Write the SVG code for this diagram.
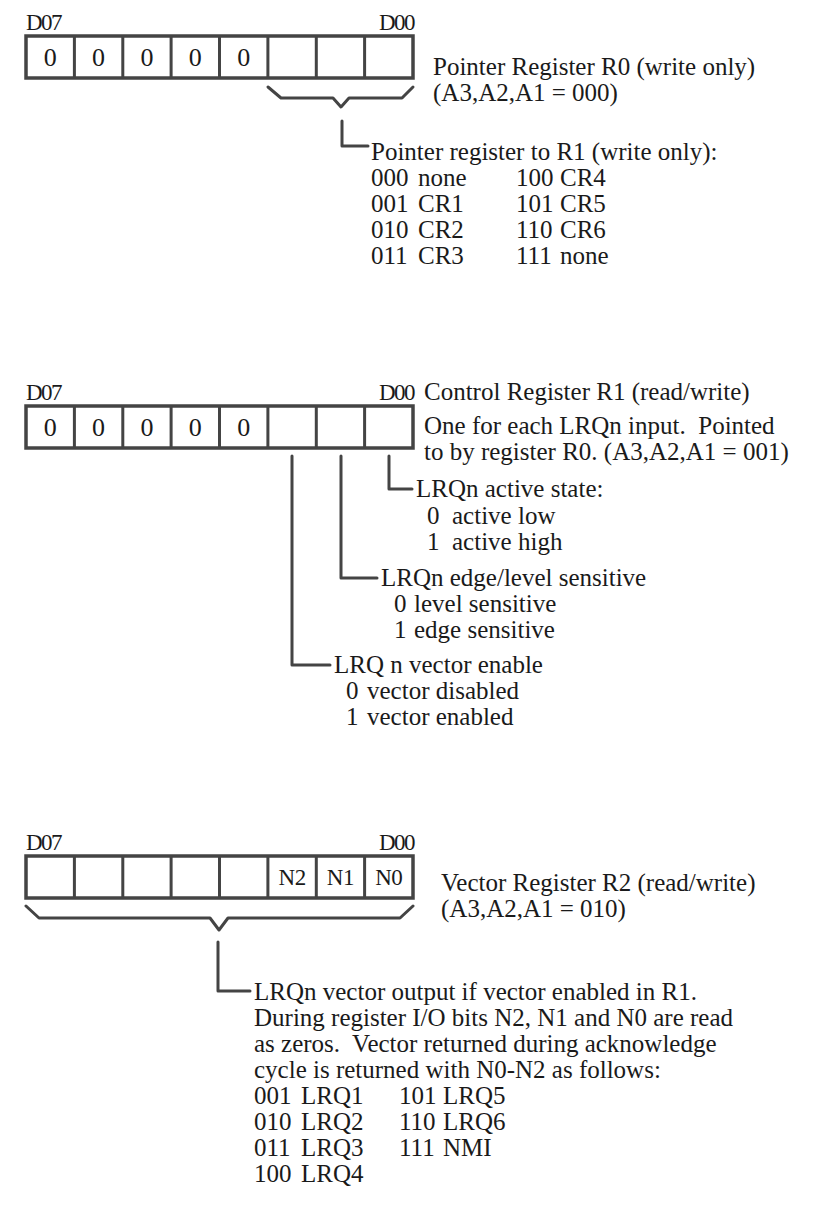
<svg xmlns="http://www.w3.org/2000/svg" width="835" height="1232" viewBox="0 0 835 1232">
<style>
text{font-family:"Liberation Serif","Times New Roman",serif;fill:#1a1a1a;font-size:25px}
.lbl{font-size:23px;letter-spacing:-1.5px}
.bit{font-size:26px;text-anchor:middle}
.nb{font-size:23px;text-anchor:middle;letter-spacing:-0.5px}
.box{fill:#fff;stroke:#444;stroke-width:3.5}
.div{stroke:#444;stroke-width:3}
.ln{fill:none;stroke:#444;stroke-width:3;stroke-linejoin:round;stroke-linecap:round}
</style>
<rect width="835" height="1232" fill="#fff"/>

<g id="reg-r0">
<text class="lbl" x="26" y="30">D07</text>
<text class="lbl" x="414" y="30" text-anchor="end">D00</text>
<rect class="box" x="26" y="36" width="387" height="42"/>
<path class="div" d="M74.4,36V78M122.8,36V78M171.1,36V78M219.5,36V78M267.9,36V78M316.3,36V78M364.6,36V78"/>
<text class="bit" x="50.2" y="66">0</text><text class="bit" x="98.6" y="66">0</text><text class="bit" x="146.9" y="66">0</text><text class="bit" x="195.3" y="66">0</text><text class="bit" x="243.7" y="66">0</text>
<text x="433" y="75">Pointer Register R0 (write only)</text>
<text x="433" y="101">(A3,A2,A1 = 000)</text>
</g>

<g id="r0-desc">
<text x="371" y="160">Pointer register to R1 (write only):</text>
<text x="371" y="186">000</text><text x="418" y="186">none</text><text x="516" y="186">100</text><text x="560" y="186">CR4</text>
<text x="371" y="212">001</text><text x="418" y="212">CR1</text><text x="516" y="212">101</text><text x="560" y="212">CR5</text>
<text x="371" y="238">010</text><text x="418" y="238">CR2</text><text x="516" y="238">110</text><text x="560" y="238">CR6</text>
<text x="371" y="264">011</text><text x="418" y="264">CR3</text><text x="516" y="264">111</text><text x="560" y="264">none</text>
</g>

<g id="reg-r1">
<text class="lbl" x="26" y="400">D07</text>
<text class="lbl" x="414" y="400" text-anchor="end">D00</text>
<rect class="box" x="26" y="406" width="387" height="42"/>
<path class="div" d="M74.4,406V448M122.8,406V448M171.1,406V448M219.5,406V448M267.9,406V448M316.3,406V448M364.6,406V448"/>
<text class="bit" x="50.2" y="436">0</text><text class="bit" x="98.6" y="436">0</text><text class="bit" x="146.9" y="436">0</text><text class="bit" x="195.3" y="436">0</text><text class="bit" x="243.7" y="436">0</text>
<text x="424" y="400">Control Register R1 (read/write)</text>
<text x="424" y="434" xml:space="preserve">One for each LRQn input.  Pointed</text>
<text x="424" y="460">to by register R0. (A3,A2,A1 = 001)</text>
</g>

<g id="r1-active">
<text x="416" y="497">LRQn active state:</text>
<text x="427" y="524">0</text><text x="452" y="524">active low</text>
<text x="427" y="550">1</text><text x="452" y="550">active high</text>
</g>
<g id="r1-edge">
<text x="381" y="586">LRQn edge/level sensitive</text>
<text x="394" y="612">0</text><text x="414" y="612">level sensitive</text>
<text x="394" y="638">1</text><text x="414" y="638">edge sensitive</text>
</g>
<g id="r1-vector">
<text x="334" y="673">LRQ n vector enable</text>
<text x="346" y="699">0</text><text x="367" y="699">vector disabled</text>
<text x="346" y="725">1</text><text x="367" y="725">vector enabled</text>
</g>

<g id="reg-r2">
<text class="lbl" x="26" y="850">D07</text>
<text class="lbl" x="414" y="850" text-anchor="end">D00</text>
<rect class="box" x="26" y="856" width="387" height="42"/>
<path class="div" d="M74.4,856V898M122.8,856V898M171.1,856V898M219.5,856V898M267.9,856V898M316.3,856V898M364.6,856V898"/>
<text class="nb" x="292.1" y="885">N2</text><text class="nb" x="340.4" y="885">N1</text><text class="nb" x="388.8" y="885">N0</text>
<text x="441" y="891">Vector Register R2 (read/write)</text>
<text x="441" y="917">(A3,A2,A1 = 010)</text>
</g>

<g id="r2-desc">
<text x="254" y="1000">LRQn vector output if vector enabled in R1.</text>
<text x="254" y="1026">During register I/O bits N2, N1 and N0 are read</text>
<text x="254" y="1052" xml:space="preserve">as zeros.  Vector returned during acknowledge</text>
<text x="254" y="1078">cycle is returned with N0-N2 as follows:</text>
<text x="254" y="1104">001</text><text x="301" y="1104">LRQ1</text><text x="399" y="1104">101</text><text x="443" y="1104">LRQ5</text>
<text x="254" y="1130">010</text><text x="301" y="1130">LRQ2</text><text x="399" y="1130">110</text><text x="443" y="1130">LRQ6</text>
<text x="254" y="1156">011</text><text x="301" y="1156">LRQ3</text><text x="399" y="1156">111</text><text x="443" y="1156">NMI</text>
<text x="254" y="1182">100</text><text x="301" y="1182">LRQ4</text>
</g>

<g id="connectors">
<path class="ln" d="M268,87L281,98L333,98L341,107L349,98L402,98L413,87"/>
<path class="ln" d="M342,121V146H368"/>
<path class="ln" d="M389,456V489H412"/>
<path class="ln" d="M341,456V578H377"/>
<path class="ln" d="M292,456V665H330"/>
<path class="ln" d="M26,906L39,918L210,918L219,930L228,918L400,918L413,906"/>
<path class="ln" d="M218,942V991H250"/>
</g>
</svg>
